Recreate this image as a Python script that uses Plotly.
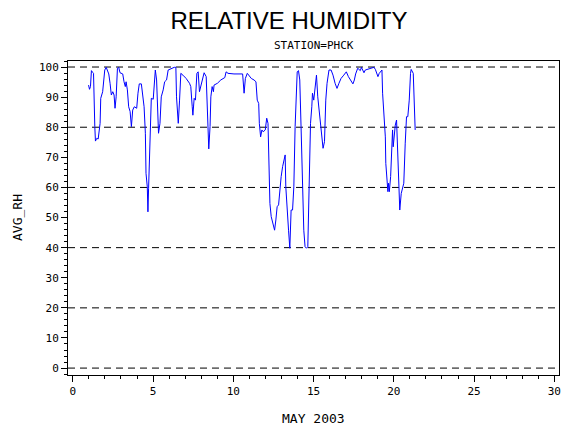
import plotly.graph_objects as go

# dias de mayo 2003 (hora fraccional) y humedad relativa media
days = [
    0.98, 1.04, 1.10, 1.16, 1.24, 1.29, 1.37, 1.41, 1.49, 1.58,
    1.70, 1.74, 1.86, 1.91, 1.99, 2.08, 2.16, 2.24, 2.32, 2.40,
    2.49, 2.57, 2.63, 2.70, 2.78, 2.86, 2.94, 3.11, 3.19, 3.27,
    3.32, 3.40, 3.48, 3.57, 3.65, 3.73, 3.83, 3.98, 4.06, 4.14,
    4.27, 4.35, 4.44, 4.52, 4.56, 4.64, 4.68, 4.72, 4.76, 4.81,
    4.89, 5.01, 5.14, 5.22, 5.31, 5.34, 5.43, 5.51, 5.63, 5.72,
    5.84, 5.94, 6.32, 6.42, 6.46, 6.52, 6.57, 6.65, 6.73, 6.86,
    7.06, 7.27, 7.35, 7.44, 7.48, 7.56, 7.64, 7.73, 7.81, 7.89,
    8.06, 8.18, 8.31, 8.39, 8.47, 8.55, 8.60, 8.68, 8.76, 8.80,
    9.01, 9.22, 9.47, 9.55, 9.67, 10.04, 10.58, 10.67, 10.75, 10.87,
    11.12, 11.29, 11.41, 11.49, 11.58, 11.62, 11.70, 11.78, 11.86, 11.99,
    12.08, 12.16, 12.20, 12.28, 12.36, 12.45, 12.57, 12.65, 12.73, 12.82,
    12.90, 12.98, 13.07, 13.15, 13.23, 13.27, 13.35, 13.44, 13.52, 13.60,
    13.69, 13.77, 13.85, 13.94, 13.98, 14.06, 14.14, 14.22, 14.31, 14.39,
    14.47, 14.56, 14.64, 14.72, 14.81, 14.89, 14.93, 15.01, 15.09, 15.18,
    15.26, 15.34, 15.43, 15.51, 15.59, 15.68, 15.76, 15.84, 15.96, 16.09,
    16.21, 16.34, 16.46, 16.58, 16.71, 16.88, 17.04, 17.17, 17.33, 17.45,
    17.54, 17.62, 17.75, 17.91, 17.98, 18.06, 18.14, 18.22, 18.55, 18.76,
    18.85, 18.93, 19.01, 19.09, 19.17, 19.26, 19.30, 19.38, 19.47, 19.50,
    19.55, 19.63, 19.67, 19.72, 19.80, 19.88, 19.92, 19.96, 20.00, 20.09,
    20.17, 20.21, 20.29, 20.34, 20.37, 20.46, 20.54, 20.62, 20.71, 20.79,
    20.87, 20.96, 21.04, 21.08, 21.21, 21.29, 21.33,
]
avg_rh = [
    94.0, 92.6, 93.5, 98.8, 98.2, 97.9, 80.2, 75.4, 76.3, 76.1,
    81.3, 89.6, 91.8, 94.6, 99.0, 99.9, 98.4, 97.7, 94.6, 90.7,
    91.8, 90.7, 86.3, 90.1, 99.6, 99.9, 98.1, 97.7, 95.1, 93.5,
    95.1, 92.4, 86.8, 85.2, 80.2, 85.7, 86.8, 86.3, 91.3, 94.4,
    94.4, 91.3, 86.8, 78.0, 64.7, 60.2, 51.9, 59.7, 69.1, 79.1,
    89.6, 89.3, 99.0, 95.7, 81.3, 78.0, 81.3, 90.1, 92.4, 95.1,
    95.7, 99.0, 99.9, 99.9, 90.1, 83.0, 81.3, 89.0, 97.9, 97.3,
    96.2, 94.6, 93.5, 86.8, 84.0, 89.6, 89.0, 97.9, 98.4, 91.8,
    95.7, 98.1, 96.8, 85.7, 72.8, 80.2, 90.1, 93.5, 91.8, 94.0,
    94.6, 95.7, 96.5, 98.4, 97.9, 97.7, 97.7, 91.3, 96.2, 97.9,
    96.2, 95.7, 95.1, 89.0, 87.9, 81.3, 76.8, 79.1, 78.5, 79.1,
    83.0, 81.3, 68.0, 54.7, 50.3, 48.1, 45.8, 49.2, 53.6, 54.2,
    60.2, 63.6, 66.9, 69.1, 70.8, 60.2, 54.7, 45.8, 39.8, 52.5,
    52.5, 60.2, 80.2, 92.4, 98.4, 98.8, 95.7, 80.2, 60.2, 45.8,
    40.3, 39.8, 40.3, 60.2, 81.3, 86.8, 91.3, 89.0, 93.5, 97.3,
    90.1, 85.7, 81.3, 75.7, 73.0, 75.2, 89.0, 94.6, 99.0, 99.0,
    97.3, 94.6, 92.9, 94.6, 96.2, 97.3, 98.4, 96.8, 95.4, 94.4,
    95.7, 97.7, 99.6, 98.8, 99.9, 99.0, 98.1, 99.0, 99.4, 99.9,
    99.2, 97.9, 96.8, 97.9, 98.4, 99.0, 91.3, 82.4, 76.8, 68.0,
    63.6, 58.6, 61.4, 58.6, 63.6, 71.3, 79.1, 73.5, 76.8, 80.7,
    82.4, 75.7, 69.1, 58.6, 52.5, 58.0, 60.2, 61.4, 74.7, 83.5,
    83.5, 89.0, 97.9, 99.2, 97.9, 81.8, 79.1,
]

x_ticks = [0, 5, 10, 15, 20, 25, 30]
y_ticks = [0, 10, 20, 30, 40, 50, 60, 70, 80, 90, 100]
grid_lines = [0, 20, 40, 60, 80, 100]

mono = "DejaVu Sans Mono"

fig = go.Figure()

# lineas de referencia discontinuas
for g in grid_lines:
    fig.add_shape(type="line", xref="paper", x0=0, x1=1, yref="y", y0=g, y1=g,
                  line=dict(color="black", width=1, dash="7px,5px"), layer="below")

fig.add_trace(go.Scatter(x=days, y=avg_rh, mode="lines",
                         line=dict(color="#0000ff", width=1), showlegend=False))

# la pagina tiene 8px de margen en body: figura de 562x422
fig.update_layout(
    width=562, height=422,
    margin=dict(l=60, r=9, t=53, b=55),
    paper_bgcolor="white", plot_bgcolor="white",
    title=dict(text="RELATIVE HUMIDITY", x=0.5, xanchor="center",
               y=1 - 13 / 422, yanchor="middle",
               font=dict(family="Liberation Sans", size=24, color="black")),
    annotations=[
        dict(text="STATION=PHCK", xref="paper", yref="paper", x=0.5, y=1.0,
             yanchor="middle", xanchor="center", yshift=16, showarrow=False,
             font=dict(family=mono, size=11, color="black")),
        dict(text="MAY 2003", xref="paper", yref="paper", x=0.5, y=0,
             yanchor="middle", xanchor="center", yshift=-43, showarrow=False,
             font=dict(family=mono, size=13, color="black")),
        dict(text="AVG_RH", xref="paper", yref="paper", x=0, y=0.5,
             xanchor="center", yanchor="middle", xshift=-51, textangle=-90,
             showarrow=False, font=dict(family=mono, size=13, color="black")),
    ],
)

fig.update_xaxes(
    range=[-0.3, 30.29], tickvals=x_ticks, ticks="outside", ticklen=6,
    tickcolor="black", tickwidth=1,
    minor=dict(dtick=1, tick0=0, ticks="outside", ticklen=3, tickcolor="black", showgrid=False),
    showline=True, linecolor="black", linewidth=1, mirror=True,
    showgrid=False, zeroline=False,
    tickfont=dict(family=mono, size=11, color="black"),
)
fig.update_yaxes(
    range=[-2.3, 102.0], tickvals=y_ticks, ticks="outside", ticklen=6,
    tickcolor="black", tickwidth=1,
    minor=dict(dtick=2, tick0=0, ticks="outside", ticklen=3, tickcolor="black", showgrid=False),
    showline=True, linecolor="black", linewidth=1, mirror=True,
    showgrid=False, zeroline=False,
    tickfont=dict(family=mono, size=11, color="black"),
)

fig.write_html("out.html")
